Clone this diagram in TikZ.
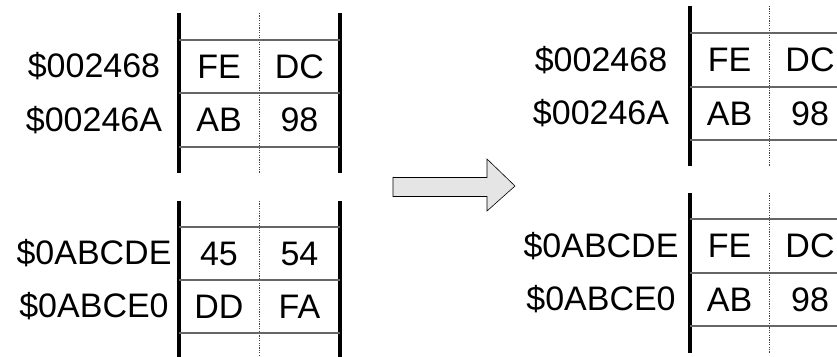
\documentclass[tikz,border=0pt]{standalone}
\usepackage{fontspec}
\setmainfont{Liberation Sans}
\usetikzlibrary{positioning}

\begin{document}
\begin{tikzpicture}[x=1pt,y=-1pt,
  memwall/.style={line width=3.4pt},
  rowline/.style={draw=black!60,line width=1.2pt},
  bytesep/.style={draw=black!75,line width=0.8pt,dash pattern=on 1.2pt off 1.2pt},
  cell/.style={font=\fontsize{34}{40}\selectfont,inner sep=0pt},
  addr/.style={font=\fontsize{34}{40}\selectfont,inner sep=0pt}]
\useasboundingbox (0,0) rectangle (837,356);
\clip (0,0) rectangle (837,356);

% before: first block
\draw[memwall] (179,13) -- (179,173);
\draw[memwall] (340,13) -- (340,173);
\draw[bytesep] (259,13) -- (259,173);
\draw[rowline] (179,40) -- (340,40);
\draw[rowline] (179,93) -- (340,93);
\draw[rowline] (179,147) -- (340,147);
\node[addr] (addrA1) at (94,66.5) {\$002468};
\node[addr] (addrA2) at (94,120) {\$00246A};
\node[cell] (cellA1) at (219,66.5) {FE};
\node[cell] (cellA2) at (299.5,66.5) {DC};
\node[cell] (cellA3) at (219,120) {AB};
\node[cell] (cellA4) at (299.5,120) {98};

% before: second block
\draw[memwall] (179,201) -- (179,360);
\draw[memwall] (340,201) -- (340,360);
\draw[bytesep] (259,201) -- (259,360);
\draw[rowline] (179,227) -- (340,227);
\draw[rowline] (179,280) -- (340,280);
\draw[rowline] (179,333) -- (340,333);
\node[addr] (addrB1) at (94,253.5) {\$0ABCDE};
\node[addr] (addrB2) at (94,306.5) {\$0ABCE0};
\node[cell] (cellB1) at (219,253.5) {45};
\node[cell] (cellB2) at (299.5,253.5) {54};
\node[cell] (cellB3) at (219,306.5) {DD};
\node[cell] (cellB4) at (299.5,306.5) {FA};

% the move
\draw[fill=black!10,draw=black,line width=0.6pt] (393,177.5) -- (487,177.5) -- (487,159)
  -- (515,186) -- (487,211) -- (487,196.5) -- (393,196.5) -- cycle;

% after: first block
\draw[memwall] (690,6) -- (690,166);
\draw[memwall] (851,6) -- (851,166);
\draw[bytesep] (769,6) -- (769,166);
\draw[rowline] (690,33) -- (851,33);
\draw[rowline] (690,87) -- (851,87);
\draw[rowline] (690,140) -- (851,140);
\node[addr] (addrC1) at (601,60) {\$002468};
\node[addr] (addrC2) at (601,113.5) {\$00246A};
\node[cell] (cellC1) at (729.5,60) {FE};
\node[cell] (cellC2) at (810,60) {DC};
\node[cell] (cellC3) at (729.5,113.5) {AB};
\node[cell] (cellC4) at (810,113.5) {98};

% after: second block
\draw[memwall] (690,193) -- (690,353);
\draw[memwall] (851,193) -- (851,353);
\draw[bytesep] (769,193) -- (769,353);
\draw[rowline] (690,219) -- (851,219);
\draw[rowline] (690,273) -- (851,273);
\draw[rowline] (690,326) -- (851,326);
\node[addr] (addrD1) at (601,246) {\$0ABCDE};
\node[addr] (addrD2) at (601,299.5) {\$0ABCE0};
\node[cell] (cellD1) at (729.5,246) {FE};
\node[cell] (cellD2) at (810,246) {DC};
\node[cell] (cellD3) at (729.5,299.5) {AB};
\node[cell] (cellD4) at (810,299.5) {98};

\end{tikzpicture}
\end{document}
